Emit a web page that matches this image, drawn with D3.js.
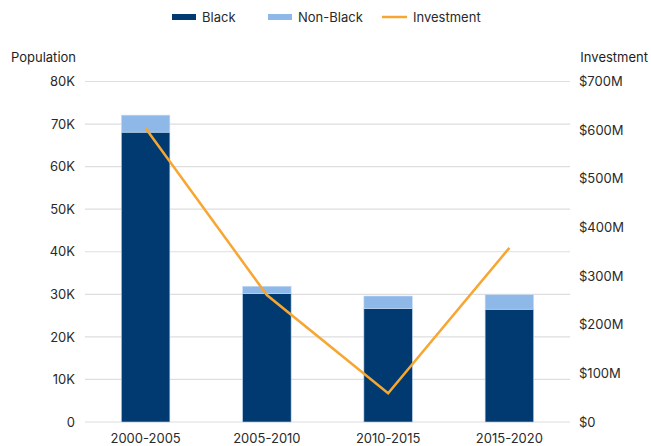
<!DOCTYPE html>
<html>
<head>
<meta charset="utf-8">
<script src="https://cdn.jsdelivr.net/npm/d3@7"></script>
<style>
  body { margin: 0; background: #fff; }
  svg { display: block; font-family: Inter, "Noto Sans", sans-serif; }
</style>
</head>
<body>
<svg id="chart" width="651" height="446"></svg>
<script>
// Population by period, split into Black and Non-Black residents, with investment overlay
const periods = ["2000-2005", "2005-2010", "2010-2015", "2015-2020"];
const blackPop = [68100, 30200, 26700, 26500];
const nonBlackPop = [4000, 1700, 2900, 3400];
const investment = [604, 261, 59, 358]; // $ millions
const popTicks = [0, 10000, 20000, 30000, 40000, 50000, 60000, 70000, 80000];
const invTicks = [0, 100, 200, 300, 400, 500, 600, 700];

const colors = { black: "#003a70", nonBlack: "#8db8e8", inv: "#f7a631" };
const textColor = "#2a2a2a";

const svg = d3.select("#chart");
const plotLeft = 85, plotRight = 570, plotTop = 81.5, plotBottom = 422;

const x = d3.scaleBand().domain(periods).range([plotLeft, plotRight]).paddingInner(0.6).paddingOuter(0.3);
const yPop = d3.scaleLinear().domain([0, 80000]).range([plotBottom, plotTop]);
const yInv = d3.scaleLinear().domain([0, 700]).range([plotBottom, plotTop]);

// gridlines
svg.append("g").selectAll("line").data(popTicks).join("line")
  .attr("x1", plotLeft).attr("x2", plotRight)
  .attr("y1", d => yPop(d)).attr("y2", d => yPop(d))
  .attr("stroke", "#dedede").attr("stroke-width", 1.2);

// left axis
const fmtPop = d => d === 0 ? "0" : (d / 1000) + "K";
const gl = svg.append("g").attr("transform", `translate(${plotLeft - 10},0)`)
  .call(d3.axisLeft(yPop).tickValues(popTicks).tickFormat(fmtPop).tickSize(0).tickPadding(0));
gl.select(".domain").remove();
gl.selectAll("text").attr("fill", textColor).style("font-size", "13px").style("font-family", "Inter, sans-serif");

// right axis
const fmtInv = d => d === 0 ? "$0" : "$" + d + "M";
const gr = svg.append("g").attr("transform", `translate(${plotRight + 9},0)`)
  .call(d3.axisRight(yInv).tickValues(invTicks).tickFormat(fmtInv).tickSize(0).tickPadding(0));
gr.select(".domain").remove();
gr.selectAll("text").attr("fill", textColor).style("font-size", "13px").style("font-family", "Inter, sans-serif");

// bottom axis
const gb = svg.append("g").attr("transform", `translate(0,${plotBottom})`)
  .call(d3.axisBottom(x).tickSize(0).tickPadding(12));
gb.select(".domain").remove();
gb.selectAll("text").attr("fill", textColor).style("font-size", "13px").style("font-family", "Inter, sans-serif");

// stacked bars
const bars = svg.append("g");
periods.forEach((p, i) => {
  const b = blackPop[i], n = nonBlackPop[i];
  bars.append("rect")
    .attr("x", x(p)).attr("width", x.bandwidth())
    .attr("y", yPop(b)).attr("height", yPop(0) - yPop(b))
    .attr("fill", colors.black).attr("stroke", "#b9d3f0").attr("stroke-width", 0.6);
  bars.append("rect")
    .attr("x", x(p)).attr("width", x.bandwidth())
    .attr("y", yPop(b + n)).attr("height", yPop(b) - yPop(b + n))
    .attr("fill", colors.nonBlack).attr("stroke", "#c8def5").attr("stroke-width", 0.6);
});

// investment line
const line = d3.line().x((d, i) => x(periods[i]) + x.bandwidth() / 2).y(d => yInv(d));
svg.append("path").datum(investment)
  .attr("d", line).attr("fill", "none")
  .attr("stroke", colors.inv).attr("stroke-width", 2.5).attr("stroke-linejoin", "miter");

// axis titles
svg.append("text").attr("x", 11).attr("y", 62).text("Population")
  .attr("fill", "#1e1e1e").style("font-size", "13px");
svg.append("text").attr("x", 648).attr("y", 62).attr("text-anchor", "end").text("Investment")
  .attr("fill", "#1e1e1e").style("font-size", "13px");

// legend
const legend = svg.append("g").style("font-size", "13px");
const items = [
  { label: "Black", type: "rect", color: colors.black, sx: 172, tx: 202 },
  { label: "Non-Black", type: "rect", color: colors.nonBlack, sx: 268, tx: 298 },
  { label: "Investment", type: "line", color: colors.inv, sx: 382, tx: 413 }
];
items.forEach(it => {
  if (it.type === "rect") {
    legend.append("rect").attr("x", it.sx).attr("y", 14).attr("width", 24).attr("height", 6).attr("fill", it.color);
  } else {
    legend.append("line").attr("x1", it.sx).attr("x2", it.sx + 25).attr("y1", 17).attr("y2", 17)
      .attr("stroke", it.color).attr("stroke-width", 2.5);
  }
  legend.append("text").attr("x", it.tx).attr("y", 17).attr("dy", "0.35em").text(it.label).attr("fill", textColor);
});
</script>
</body>
</html>
